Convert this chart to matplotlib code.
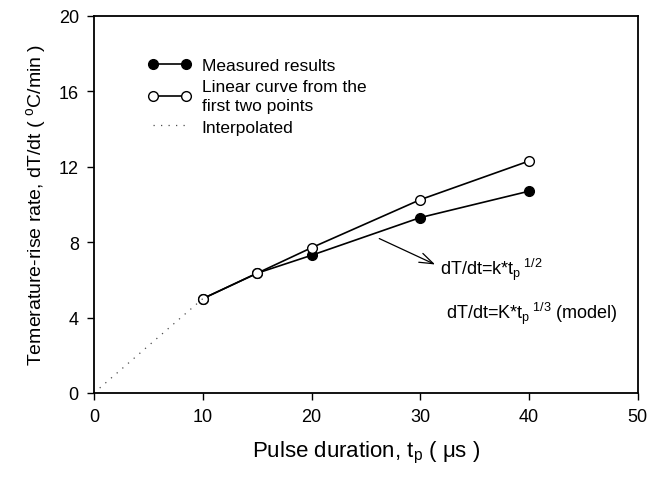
import matplotlib
matplotlib.use('Agg')
import matplotlib.pyplot as plt

plt.rcParams['font.family'] = ['Liberation Sans', 'DejaVu Sans']
plt.rcParams['mathtext.fontset'] = 'custom'
plt.rcParams['mathtext.rm'] = 'Liberation Sans'
plt.rcParams['mathtext.it'] = 'Liberation Sans'
plt.rcParams['mathtext.default'] = 'regular'

# data
tp = [10, 15, 20, 30, 40]
measured = [5.0, 6.35, 7.3, 9.3, 10.7]
linear = [5.0, 6.35, 7.7, 10.25, 12.3]
interp_x = [0, 10]
interp_y = [0, 5.0]

fig = plt.figure(figsize=(6.65, 4.81), dpi=100)
ax = fig.add_axes([0.1414, 0.181, 0.8176, 0.784])

l1, = ax.plot(tp, measured, '-o', color='black', lw=1.2, ms=7, mfc='black', mec='black',
              label='Measured results')
l2, = ax.plot(tp, linear, '-o', color='black', lw=1.2, ms=7, mfc='white', mec='black', mew=1.0,
              label='Linear curve from the\nfirst two points')
l3, = ax.plot(interp_x, interp_y, color='0.3', lw=0.9, linestyle=(0, (1, 5)), label='Interpolated')

leg = ax.legend([l1, l2, l3], [l1.get_label(), l2.get_label(), l3.get_label()],
                loc='upper left', bbox_to_anchor=(0.07, 0.93),
                frameon=False, fontsize=12.5, handlelength=2.5, handletextpad=0.6,
                labelspacing=0.35, numpoints=2)
for t in leg.get_texts():
    t.set_linespacing(1.35)

ax.annotate('', xy=(31.6, 6.75), xytext=(26.0, 8.25),
            arrowprops=dict(arrowstyle='->,head_length=1.0,head_width=0.35', color='black', lw=0.9))
ax.text(31.8, 6.6, r'dT/dt=k*t$_p$$^{\ 1/2}$', fontsize=13, va='center', ha='left')
ax.text(32.4, 4.25, r'dT/dt=K*t$_p$$^{\ 1/3}$ (model)', fontsize=13, va='center', ha='left')

ax.set_xlim(0, 50)
ax.set_ylim(0, 20)
ax.set_xticks([0, 10, 20, 30, 40, 50])
ax.set_yticks([0, 4, 8, 12, 16, 20])
ax.tick_params(direction='out', length=5, width=1, labelsize=13, pad=6)
for s in ax.spines.values():
    s.set_linewidth(1.3)

ax.set_xlabel(r'Pulse duration, t$_p$ ( $\mu$s )', fontsize=16, labelpad=10)
ax.set_ylabel(r'Temerature-rise rate, dT/dt ( $^o$C/min )', fontsize=14, labelpad=8)

fig.savefig('out.png', dpi=100)
